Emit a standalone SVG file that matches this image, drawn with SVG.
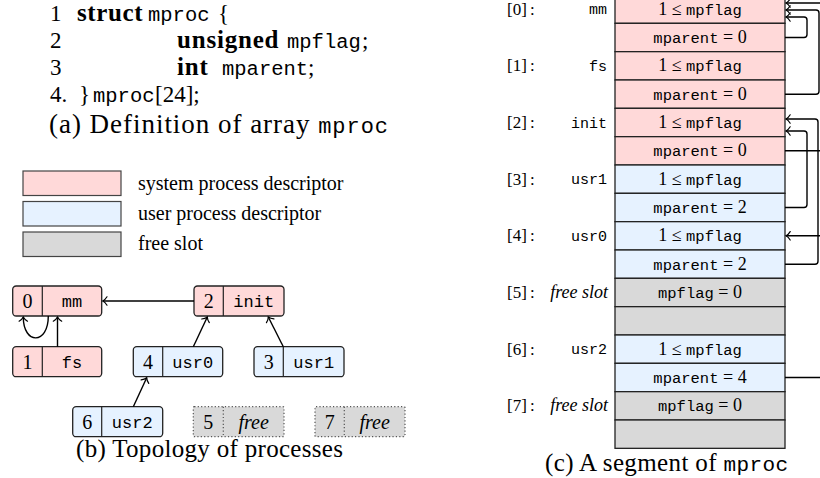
<svg xmlns="http://www.w3.org/2000/svg" width="820" height="478" viewBox="0 0 820 478">
<style>
text{fill:#000}
.rm{font-family:"Liberation Serif","DejaVu Serif",serif}
.tt{font-family:"Liberation Mono","DejaVu Sans Mono",monospace}
.bf{font-weight:bold}
.it{font-style:italic}
.code{font-size:23px}
.code .tt{font-size:20.5px}
.code .bf{font-size:25px}
.cap{font-family:"Liberation Serif","DejaVu Serif",serif;font-size:25px}
.cap .tt{font-size:21px}
.capa{font-size:27px}
.capa .tt{font-size:22px}
.leg{font-family:"Liberation Serif","DejaVu Serif",serif;font-size:20px}
.sys{fill:#ffd9d9;stroke:#222;stroke-width:1.3}
.usr{fill:#e6f2ff;stroke:#222;stroke-width:1.3}
.fre{fill:#d9d9d9;stroke:#222;stroke-width:1.3}
.lg{stroke:#444;stroke-width:1.2}
.dot{fill:#d9d9d9;stroke:#555;stroke-width:1.2;stroke-dasharray:1.2 2.2}
.div{stroke:#222;stroke-width:1.2;fill:none}
.ddiv{stroke:#555;stroke-width:1.2;stroke-dasharray:1.2 2.2;fill:none}
.nd{font-family:"Liberation Serif","DejaVu Serif",serif;font-size:20px;text-anchor:middle}
.nd .tt{font-size:17px}
.cell{font-family:"Liberation Serif","DejaVu Serif",serif;font-size:18px;text-anchor:middle}
.cell .tt{font-size:15.5px}
.idx{font-family:"Liberation Serif","DejaVu Serif",serif;font-size:17px}
.nm{font-family:"Liberation Mono","DejaVu Sans Mono",monospace;font-size:15px;text-anchor:end}
.fs{font-family:"Liberation Serif","DejaVu Serif",serif;font-size:18px;font-style:italic;text-anchor:end}
.edge{fill:none;stroke:#000;stroke-width:1.4;marker-end:url(#to)}
</style>
<defs>
<marker id="to" viewBox="-6 -6 8 12" refX="0" refY="0" markerWidth="8" markerHeight="12" markerUnits="userSpaceOnUse" orient="auto">
<path d="M-4.2,-4.2 C-2.6,-1.6 -1,-0.5 0,0 C-1,0.5 -2.6,1.6 -4.2,4.2" fill="none" stroke="#000" stroke-width="1.2" stroke-linecap="round"/>
</marker>
</defs>
<rect x="0" y="0" width="820" height="478" fill="#fff"/>

<!-- (a) code -->
<g id="code" class="rm code">
<text x="50" y="21">1</text>
<text x="77" y="21" class="bf" letter-spacing="0.6">struct</text>
<text x="148" y="21" class="tt">mproc</text>
<text x="218" y="21">{</text>
<text x="50" y="48">2</text>
<text x="177" y="48" class="bf" letter-spacing="0.8">unsigned</text>
<text x="287" y="48" class="tt">mpflag</text>
<text x="362" y="48">;</text>
<text x="50" y="75">3</text>
<text x="177" y="75" class="bf" letter-spacing="0.8">int</text>
<text x="222" y="75" class="tt">mparent</text>
<text x="308" y="75">;</text>
<text x="50" y="102">4.</text>
<text x="79" y="102">}</text>
<text x="93" y="102" class="tt">mproc</text>
<text x="155" y="102">[24];</text>
</g>
<text id="cap-a" class="cap capa" x="49" y="133" textLength="339">(a) Definition of array <tspan class="tt">mproc</tspan></text>

<!-- legend -->
<g id="legend">
<rect x="23" y="171" width="98" height="24.5" class="lg" fill="#ffd9d9"/>
<rect x="23" y="201.5" width="98" height="24.5" class="lg" fill="#e6f2ff"/>
<rect x="23" y="232" width="98" height="24.5" class="lg" fill="#d9d9d9"/>
<text class="leg" x="138" y="189.5">system process descriptor</text>
<text class="leg" x="138" y="219.5">user process descriptor</text>
<text class="leg" x="138" y="250">free slot</text>
</g>

<!-- (b) topology nodes -->
<g id="t-mm">
<rect class="sys" x="12.7" y="286" width="89" height="30" rx="3.5"/>
<line class="div" x1="42.3" y1="286" x2="42.3" y2="316"/>
<text class="nd" x="27.5" y="308">0</text>
<text class="nd" x="72" y="307"><tspan class="tt">mm</tspan></text>
</g>
<g id="t-init">
<rect class="sys" x="194" y="286" width="90" height="30" rx="3.5"/>
<line class="div" x1="223.3" y1="286" x2="223.3" y2="316"/>
<text class="nd" x="208.7" y="308">2</text>
<text class="nd" x="253.7" y="307"><tspan class="tt">init</tspan></text>
</g>
<g id="t-fs">
<rect class="sys" x="12.7" y="346.7" width="89" height="30" rx="3.5"/>
<line class="div" x1="42.3" y1="346.7" x2="42.3" y2="376.7"/>
<text class="nd" x="27.5" y="368.7">1</text>
<text class="nd" x="72" y="367.7"><tspan class="tt">fs</tspan></text>
</g>
<g id="t-usr0">
<rect class="usr" x="133.3" y="346.7" width="89.4" height="30" rx="3.5"/>
<line class="div" x1="162.7" y1="346.7" x2="162.7" y2="376.7"/>
<text class="nd" x="148" y="368.7">4</text>
<text class="nd" x="192.7" y="367.7"><tspan class="tt">usr0</tspan></text>
</g>
<g id="t-usr1">
<rect class="usr" x="254" y="346.7" width="90" height="30" rx="3.5"/>
<line class="div" x1="283.3" y1="346.7" x2="283.3" y2="376.7"/>
<text class="nd" x="268.7" y="368.7">3</text>
<text class="nd" x="313.7" y="367.7"><tspan class="tt">usr1</tspan></text>
</g>
<g id="t-usr2">
<rect class="usr" x="72.7" y="406.7" width="90" height="30" rx="3.5"/>
<line class="div" x1="101.7" y1="406.7" x2="101.7" y2="436.7"/>
<text class="nd" x="87.2" y="428.7">6</text>
<text class="nd" x="132.2" y="427.7"><tspan class="tt">usr2</tspan></text>
</g>
<g id="t-free5">
<rect class="dot" x="193.3" y="406.7" width="90.7" height="30" rx="1"/>
<line class="ddiv" x1="223.3" y1="406.7" x2="223.3" y2="436.7"/>
<text class="nd" x="208.3" y="428.7">5</text>
<text class="nd it" x="253.7" y="428.7">free</text>
</g>
<g id="t-free7">
<rect class="dot" x="315" y="406.7" width="90" height="30" rx="1"/>
<line class="ddiv" x1="344.3" y1="406.7" x2="344.3" y2="436.7"/>
<text class="nd" x="329.7" y="428.7">7</text>
<text class="nd it" x="374.7" y="428.7">free</text>
</g>
<text id="cap-b" class="cap" x="76" y="457" textLength="267">(b) Topology of processes</text>

<!-- (c) array slots -->
<g id="s0">
<rect class="sys" x="615" y="-5" width="170" height="28.33"/>
<rect class="sys" x="615" y="23.33" width="170" height="28.33"/>
<text class="idx" x="507" y="14.7">[0]</text><text class="idx" x="530" y="14.7">:</text>
<text class="nm" x="607" y="14.2">mm</text>
<text class="cell" x="700" y="14.7">1 ≤ <tspan class="tt">mpflag</tspan></text>
<text class="cell" x="700" y="43"><tspan class="tt">mparent</tspan> = 0</text>
</g>
<g id="s1">
<rect class="sys" x="615" y="51.67" width="170" height="28.33"/>
<rect class="sys" x="615" y="80" width="170" height="28.33"/>
<text class="idx" x="507" y="71.3">[1]</text><text class="idx" x="530" y="71.3">:</text>
<text class="nm" x="607" y="70.8">fs</text>
<text class="cell" x="700" y="71.3">1 ≤ <tspan class="tt">mpflag</tspan></text>
<text class="cell" x="700" y="99.7"><tspan class="tt">mparent</tspan> = 0</text>
</g>
<g id="s2">
<rect class="sys" x="615" y="108.33" width="170" height="28.33"/>
<rect class="sys" x="615" y="136.67" width="170" height="28.33"/>
<text class="idx" x="507" y="128">[2]</text><text class="idx" x="530" y="128">:</text>
<text class="nm" x="607" y="127.5">init</text>
<text class="cell" x="700" y="128">1 ≤ <tspan class="tt">mpflag</tspan></text>
<text class="cell" x="700" y="156.3"><tspan class="tt">mparent</tspan> = 0</text>
</g>
<g id="s3">
<rect class="usr" x="615" y="165" width="170" height="28.33"/>
<rect class="usr" x="615" y="193.33" width="170" height="28.33"/>
<text class="idx" x="507" y="184.7">[3]</text><text class="idx" x="530" y="184.7">:</text>
<text class="nm" x="607" y="184.2">usr1</text>
<text class="cell" x="700" y="184.7">1 ≤ <tspan class="tt">mpflag</tspan></text>
<text class="cell" x="700" y="213"><tspan class="tt">mparent</tspan> = 2</text>
</g>
<g id="s4">
<rect class="usr" x="615" y="221.67" width="170" height="28.33"/>
<rect class="usr" x="615" y="250" width="170" height="28.33"/>
<text class="idx" x="507" y="241.3">[4]</text><text class="idx" x="530" y="241.3">:</text>
<text class="nm" x="607" y="240.8">usr0</text>
<text class="cell" x="700" y="241.3">1 ≤ <tspan class="tt">mpflag</tspan></text>
<text class="cell" x="700" y="269.7"><tspan class="tt">mparent</tspan> = 2</text>
</g>
<g id="s5">
<rect class="fre" x="615" y="278.33" width="170" height="28.33"/>
<rect class="fre" x="615" y="306.67" width="170" height="28.33"/>
<text class="idx" x="507" y="298">[5]</text><text class="idx" x="530" y="298">:</text>
<text class="fs" x="608" y="298">free slot</text>
<text class="cell" x="700" y="298"><tspan class="tt">mpflag</tspan> = 0</text>
</g>
<g id="s6">
<rect class="usr" x="615" y="335" width="170" height="28.33"/>
<rect class="usr" x="615" y="363.33" width="170" height="28.33"/>
<text class="idx" x="507" y="354.7">[6]</text><text class="idx" x="530" y="354.7">:</text>
<text class="nm" x="607" y="354.2">usr2</text>
<text class="cell" x="700" y="354.7">1 ≤ <tspan class="tt">mpflag</tspan></text>
<text class="cell" x="700" y="383"><tspan class="tt">mparent</tspan> = 4</text>
</g>
<g id="s7">
<rect class="fre" x="615" y="391.67" width="170" height="28.33"/>
<rect class="fre" x="615" y="420" width="170" height="28.33"/>
<text class="idx" x="507" y="411.3">[7]</text><text class="idx" x="530" y="411.3">:</text>
<text class="fs" x="608" y="411.3">free slot</text>
<text class="cell" x="700" y="411.3"><tspan class="tt">mpflag</tspan> = 0</text>
</g>
<text id="cap-c" class="cap" x="545" y="471" textLength="243">(c) A segment of <tspan class="tt">mproc</tspan></text>

<!-- connectors -->
<g id="connectors">
<path class="edge" d="M194,301 H102.8"/>
<path class="edge" d="M57.5,346.7 V317"/>
<path class="edge" d="M48.3,316 C48.3,345 23.3,345 23.3,317"/>
<path class="edge" d="M193.3,346.7 L207.3,317"/>
<path class="edge" d="M283.3,346.7 L268.3,317"/>
<path class="edge" d="M133.3,406.7 L146.7,377.8"/>
<path class="edge" d="M785,37.5 H804 Q807,37.5 807,34.5 V20 Q807,17 804,17 H786"/>
<path class="edge" d="M785,94.2 H816 Q819,94.2 819,91.2 V13 Q819,10 816,10 H786"/>
<path class="edge" d="M785,150.8 H830 V3 H786"/>
<path class="edge" d="M785,207.5 H804 Q807,207.5 807,204.5 V134 Q807,131 804,131 H786"/>
<path class="edge" d="M785,264.2 H815 Q818,264.2 818,261.2 V122 Q818,119 815,119 H786"/>
<path class="edge" d="M785,377.5 H830 V235.8 H786"/>
</g>
</svg>
